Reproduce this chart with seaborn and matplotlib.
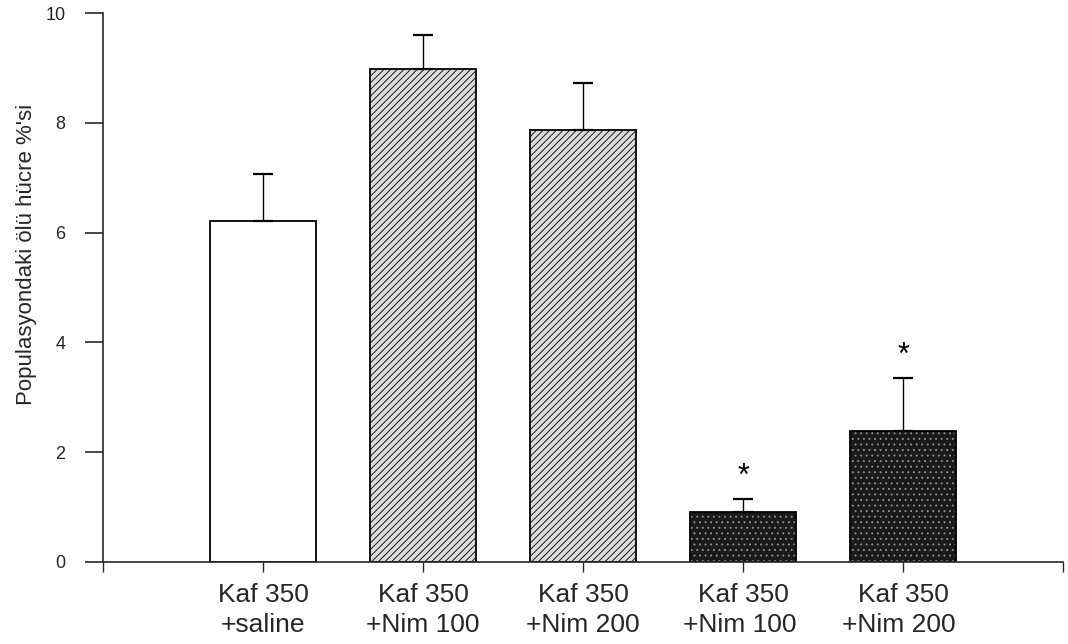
import matplotlib
matplotlib.use("Agg")
import matplotlib.pyplot as plt
import seaborn as sns
import pandas as pd
import numpy as np

categories = ["Kaf 350\n+saline", "Kaf 350\n+Nim 100", "Kaf 350\n+Nim 200",
              "Kaf 350\n+Nim 100 ", "Kaf 350\n+Nim 200 "]
means = [6.22, 8.98, 7.86, 0.91, 2.38]
err_upper = [0.85, 0.62, 0.86, 0.24, 0.97]
significant = [False, False, False, True, True]
yticks = [0, 2, 4, 6, 8, 10]
ylabel = "Populasyondaki ölü hücre %'si"

sns.set_style("ticks")
plt.rcParams['font.family'] = ['Liberation Sans', 'DejaVu Sans']
plt.rcParams['hatch.linewidth'] = 0.7

df = pd.DataFrame({"group": categories, "value": means})

fig = plt.figure(figsize=(10.68, 6.44), dpi=100)
ax = fig.add_axes([103/1068, 1-562/644, (1063-103)/1068, (562-13)/644])

sns.barplot(data=df, x="group", y="value", ax=ax, color="white",
            edgecolor="black", linewidth=1.3, width=0.66, errorbar=None)

styles = [
    dict(fc="white", hatch=None, hc=None),
    dict(fc="#dcdcdc", hatch="/////", hc=(0.1, 0.1, 0.1, 1)),
    dict(fc="#dcdcdc", hatch="/////", hc=(0.1, 0.1, 0.1, 1)),
    dict(fc="#1a1a1a", hatch="...", hc=(0.55, 0.55, 0.55, 1)),
    dict(fc="#1a1a1a", hatch="...", hc=(0.55, 0.55, 0.55, 1)),
]
for p, st in zip(ax.patches, styles):
    p.set_facecolor(st["fc"])
    p.set_edgecolor("black")
    if st["hatch"]:
        p.set_hatch(st["hatch"])
        p._hatch_color = st["hc"]

x = np.arange(len(means))
ax.errorbar(x, means, yerr=[np.zeros(len(means)), err_upper], fmt="none",
            ecolor="black", elinewidth=1.0, capsize=7, capthick=1.6, zorder=1)

for xi, m, e, s in zip(x, means, err_upper, significant):
    if s:
        ax.text(xi, m + e + 0.4, "*", ha="center", va="center", fontsize=22,
                color="black")

ax.set_xlim(-1, 5)
ax.set_ylim(0, 10)
ax.set_yticks(yticks)
ax.set_yticklabels([str(t) for t in yticks], fontsize=13)
ax.set_xticks(list(range(-1, 6)))
ax.set_xticklabels([""] + categories + [""], fontsize=19, linespacing=1.3)
ax.tick_params(axis="y", length=13, width=1.2, pad=14)
ax.tick_params(axis="x", length=7, width=1.0, pad=8)
ax.set_xlabel("")
ax.set_ylabel(ylabel, fontsize=16, labelpad=6, y=0.56)
sns.despine(ax=ax)
for sp in ["left", "bottom"]:
    ax.spines[sp].set_linewidth(1.2)

fig.savefig("out.png", dpi=100)
